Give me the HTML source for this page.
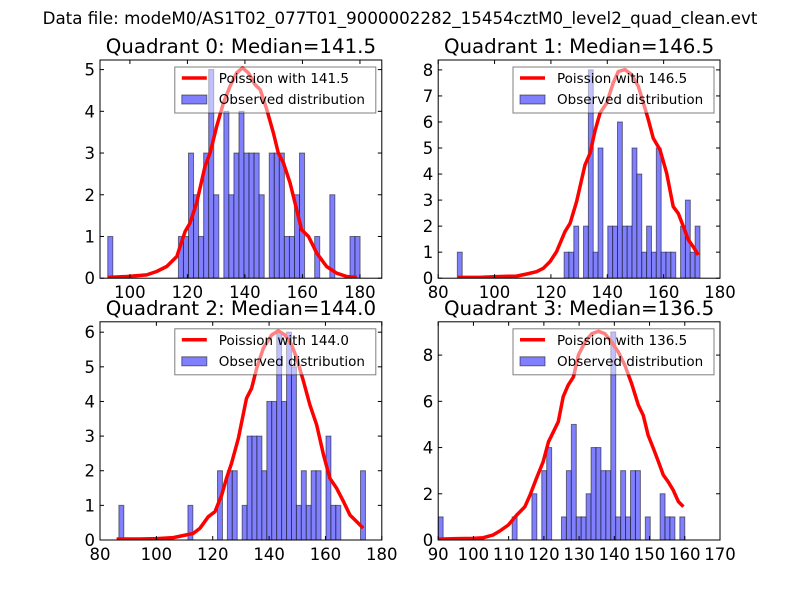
<!DOCTYPE html>
<html><head><meta charset="utf-8"><style>
body{margin:0;background:#fff;}
svg{display:block;font-family:"DejaVu Sans","Liberation Sans",sans-serif;}
</style></head><body>
<svg id="chart" width="800" height="600" viewBox="0 0 800 600">
<rect width="800" height="600" fill="#fff"/>
<text x="400" y="24" text-anchor="middle" font-size="16.7">Data file: modeM0/AS1T02_077T01_9000002282_15454cztM0_level2_quad_clean.evt</text>
</svg>
<script>
// ---- Quadrant 0 ----
const q0Counts = [1,0,0,0,0,0,0,0,0,0,0,0,0,0,1,1,3,2,1,3,5,2,0,4,2,3,4,3,3,3,2,0,3,3,3,1,1,2,3,0,0,1,0,0,2,0,0,0,1,1];
const q0LineX = [92.3,98.9,105.8,109.3,112.8,116.3,119.2,120.9,123.2,126.1,127.9,130.2,132.5,134.8,137.1,139.2,141.2,143.5,145.3,147.6,149.9,151.6,153.4,155.7,158.0,159.7,162.1,165.0,168.4,171.9,175.4,178.9];
const q0LineY = [0.02,0.04,0.08,0.16,0.28,0.52,1.12,1.32,1.8,2.68,3.0,3.64,4.2,4.6,4.92,5.04,4.92,4.64,4.52,4.04,3.48,3.0,2.76,2.28,1.64,1.16,1.0,0.6,0.28,0.12,0.04,0.02];
const q0XTicks = [100,120,140,160,180];
const q0YTicks = [0,1,2,3,4,5];
// ---- Quadrant 1 ----
const q1Counts = [1,0,0,0,0,0,0,0,0,0,0,0,0,0,0,0,0,0,0,0,0,0,1,1,2,0,2,8,1,5,0,2,2,6,2,2,5,4,1,2,1,5,1,1,1,0,2,3,1,2];
const q1LineX = [86.8,94.8,100.7,107.8,111.4,114.9,117.3,119.7,122.0,125.0,126.8,129.1,132.1,133.9,135.6,137.4,139.8,142.1,143.9,146.3,148.7,151.0,152.8,154.6,156.3,158.7,161.1,163.4,165.2,167.0,168.8,170.5,172.3];
const q1LineY = [0.03,0.03,0.06,0.08,0.16,0.25,0.38,0.64,1.02,1.79,2.11,2.94,4.35,4.8,5.64,6.34,6.73,7.5,7.94,8.01,7.81,7.37,6.73,6.08,5.38,4.93,4.03,2.75,2.49,1.98,1.47,1.21,0.89];
const q1XTicks = [80,100,120,140,160,180];
const q1YTicks = [0,1,2,3,4,5,6,7,8];
// ---- Quadrant 2 ----
const q2Counts = [1,0,0,0,0,0,0,0,0,0,0,0,0,0,1,0,0,0,0,0,2,0,2,2,0,1,3,3,3,2,4,4,6,4,6,5,1,2,1,2,2,0,3,1,1,0,0,0,0,2];
const q2LineX = [85.9,94.2,100.1,106.0,109.6,113.1,115.5,118.4,120.8,123.2,124.9,126.7,129.1,132.0,133.8,135.6,138.0,140.9,143.3,145.6,148.0,149.8,152.2,154.5,156.9,159.3,161.6,164.0,166.4,168.7,171.1,173.4];
const q2LineY = [0.03,0.03,0.04,0.07,0.13,0.19,0.34,0.67,0.82,1.3,1.78,2.22,2.94,4.09,4.38,4.96,5.54,5.92,6.04,5.92,5.64,5.25,4.58,3.9,3.32,2.46,1.78,1.49,1.11,0.72,0.53,0.34];
const q2XTicks = [80,100,120,140,160,180];
const q2YTicks = [0,1,2,3,4,5,6];
// ---- Quadrant 3 ----
const q3Counts = [1,0,0,0,0,0,0,0,0,0,0,0,0,0,0,1,0,0,0,2,0,3,4,0,0,1,3,5,1,1,2,4,4,3,3,9,1,3,1,3,3,0,1,0,0,2,1,1,0,1];
const q3LineX = [90,95.2,100,102.8,105.6,107.5,109.9,112.3,114.6,116.1,117.9,119.8,121.3,122.7,124.1,125.5,126.9,128.4,129.8,131.7,133.6,135.5,137.3,139.2,141.1,143.0,144.9,146.8,148.2,149.6,151.1,152.5,153.9,155.3,156.7,158.2,159.6];
const q3LineY = [0.04,0.06,0.07,0.10,0.22,0.39,0.65,1.08,1.44,1.95,2.67,3.39,4.25,4.68,5.12,6.2,6.7,7.06,8.0,8.57,8.93,9.03,8.93,8.57,8.14,7.56,6.77,5.84,5.4,4.54,3.96,3.39,2.81,2.52,2.16,1.66,1.44];
const q3XTicks = [90,100,110,120,130,140,150,160,170];
const q3YTicks = [0,2,4,6,8];

const NS = "http://www.w3.org/2000/svg";
const svg = document.getElementById('chart');
function mk(tag, attrs, parent){
  const e = document.createElementNS(NS, tag);
  for (const k in attrs) e.setAttribute(k, attrs[k]);
  (parent||svg).appendChild(e);
  return e;
}
const panels = [
  {id:0, title:"Quadrant 0: Median=141.5", lam:"141.5", L:100, T:60, xmin:89.6, xmax:187.6, ymax:5.23, binStart:92.3, binW:1.755, counts:q0Counts, lx:q0LineX, ly:q0LineY, xt:q0XTicks, yt:q0YTicks},
  {id:1, title:"Quadrant 1: Median=146.5", lam:"146.5", L:438.2, T:60, xmin:80, xmax:180, ymax:8.38, binStart:86.8, binW:1.722, counts:q1Counts, lx:q1LineX, ly:q1LineY, xt:q1XTicks, yt:q1YTicks},
  {id:2, title:"Quadrant 2: Median=144.0", lam:"144.0", L:100, T:321.8, xmin:80, xmax:180, ymax:6.3, binStart:86.7, binW:1.75, counts:q2Counts, lx:q2LineX, ly:q2LineY, xt:q2XTicks, yt:q2YTicks},
  {id:3, title:"Quadrant 3: Median=136.5", lam:"136.5", L:438.2, T:321.8, xmin:90, xmax:170, ymax:9.44, binStart:90, binW:1.4, counts:q3Counts, lx:q3LineX, ly:q3LineY, xt:q3XTicks, yt:q3YTicks}
];
const W = 281.8, H = 218.2;
panels.forEach(p=>{
  const g = mk('g', {});
  
  
  const sx = v => p.L + (v - p.xmin) / (p.xmax - p.xmin) * W;
  const sy = v => p.T + H - v / p.ymax * H;
  const clipId = 'clip' + p.id;
  const cp = mk('clipPath', {id: clipId}, g);
  mk('rect', {x:p.L, y:p.T, width:W, height:H}, cp);
  const title = mk('text', {x:p.L + W/2, y:p.T - 7, 'text-anchor':'middle', 'font-size':19.8}, g);
  title.textContent = p.title;
  
  
  const plot = mk('g', {'clip-path':'url(#' + clipId + ')'}, g);
  p.counts.forEach((c, i)=>{
    if (!c) return;
    const x0 = sx(p.binStart + i*p.binW), x1 = sx(p.binStart + (i+1)*p.binW);
    const r = mk('rect', {x:x0, y:sy(c), width:x1-x0, height:sy(0)-sy(c), fill:'rgb(128,128,255)', stroke:'rgba(0,0,0,0.5)', 'stroke-width':1}, plot);
    
    
  });
  const pts = p.lx.map((x,i)=> sx(x).toFixed(1) + ',' + sy(p.ly[i]).toFixed(1)).join(' ');
  const ln = mk('polyline', {points:pts, fill:'none', stroke:'#ff0000', 'stroke-width':3.5, 'stroke-linejoin':'round'}, plot);
  
  
  p.xt.forEach(t=>{
    const x = sx(t);
    mk('line', {x1:x, x2:x, y1:p.T+H, y2:p.T+H-4, stroke:'#000'}, g);
    mk('line', {x1:x, x2:x, y1:p.T, y2:p.T+4, stroke:'#000'}, g);
    const tl = mk('text', {x:x, y:p.T+H+20, 'text-anchor':'middle', 'font-size':16.5}, g);
    tl.textContent = t;
    
    
  });
  p.yt.forEach(t=>{
    const y = sy(t);
    mk('line', {x1:p.L, x2:p.L+4, y1:y, y2:y, stroke:'#000'}, g);
    mk('line', {x1:p.L+W, x2:p.L+W-4, y1:y, y2:y, stroke:'#000'}, g);
    const tl = mk('text', {x:p.L-5, y:y+6, 'text-anchor':'end', 'font-size':16.5}, g);
    tl.textContent = t;
    
    
  });
  mk('rect', {x:p.L, y:p.T, width:W, height:H, fill:'none', stroke:'#000', 'stroke-width':1}, g);
  const lg = mk('g', {}, g);
  
  
  const lx0 = p.L + W - 207, ly0 = p.T + 7;
  mk('rect', {x:lx0, y:ly0, width:201, height:46, fill:'rgba(255,255,255,0.5)', stroke:'rgba(0,0,0,0.5)', 'stroke-width':1}, lg);
  mk('line', {x1:lx0+7, x2:lx0+32, y1:ly0+11, y2:ly0+11, stroke:'#ff0000', 'stroke-width':3.5}, lg);
  mk('rect', {x:lx0+7, y:ly0+28, width:25, height:9, fill:'rgb(128,128,255)', stroke:'rgba(0,0,0,0.5)'}, lg);
  const t1 = mk('text', {x:lx0+44, y:ly0+16, 'font-size':13.5}, lg);
  t1.textContent = 'Poission with ' + p.lam;
  
  
  const t2 = mk('text', {x:lx0+44, y:ly0+37, 'font-size':13.5}, lg);
  t2.textContent = 'Observed distribution';
  
  
});
</script>
</body></html>
